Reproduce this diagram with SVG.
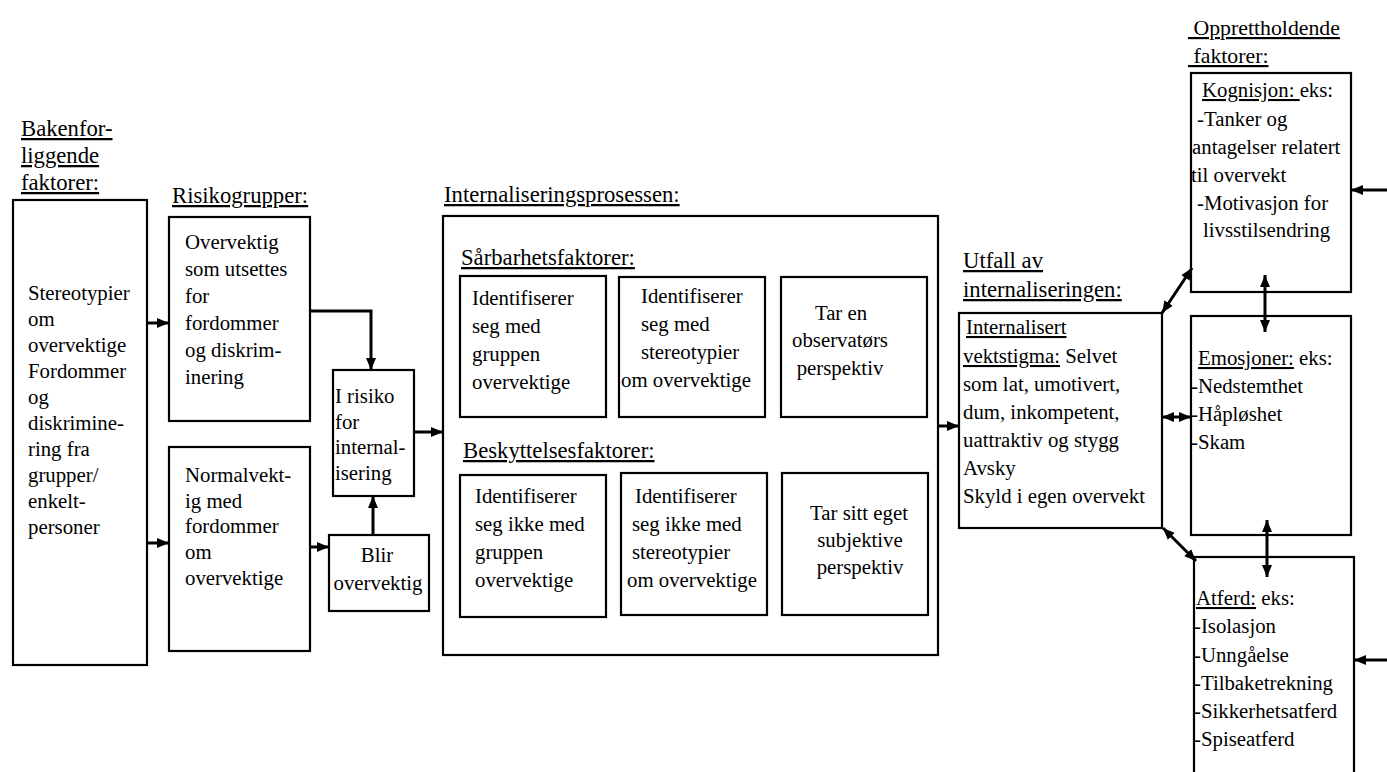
<svg xmlns="http://www.w3.org/2000/svg" width="1387" height="772" viewBox="0 0 1387 772" font-family="'Liberation Serif', 'Times New Roman', Tinos, 'DejaVu Serif', serif">
<style>
.bg{fill:#fff}
.box{fill:#fff;stroke:#000;stroke-width:2.2}
text{font-family:'Liberation Serif','Times New Roman',Tinos,'DejaVu Serif',serif;fill:#000}
.t{font-size:20.8px}
.h{font-size:22.7px;text-decoration:underline}
.u{text-decoration:underline}
.m{text-anchor:middle}
.c{stroke:#000;stroke-width:3;fill:none}
</style>
<defs>
<marker id="ah" markerUnits="userSpaceOnUse" markerWidth="12" markerHeight="12" viewBox="0 0 12 12" refX="12" refY="6" orient="auto-start-reverse">
<path d="M0,1 L12,6 L0,11 z" fill="#000"/>
</marker>
</defs>
<rect class="bg" x="0" y="0" width="1387" height="772"/>

<g id="headers">
<text class="h" x="21" y="136">Bakenfor-</text>
<text class="h" x="21" y="163">liggende</text>
<text class="h" x="21" y="190">faktorer:</text>
<text class="h" x="172" y="203">Risikogrupper:</text>
<text class="h" x="444" y="202">Internaliseringsprosessen:</text>
<text class="h" x="963" y="268">Utfall av</text>
<text class="h" x="963" y="297">internaliseringen:</text>
<text class="h" x="1188" y="35" xml:space="preserve" style="font-size:21.8px"> Opprettholdende</text>
<text class="h" x="1188" y="63" xml:space="preserve" style="font-size:21.8px"> faktorer:</text>
</g>

<g id="n-bakenforliggende">
<rect class="box" x="13" y="200" width="134" height="465"/>
<text class="t" x="28" y="300">Stereotypier</text>
<text class="t" x="28" y="326">om</text>
<text class="t" x="28" y="352">overvektige</text>
<text class="t" x="28" y="378">Fordommer</text>
<text class="t" x="28" y="404">og</text>
<text class="t" x="28" y="430">diskrimine-</text>
<text class="t" x="28" y="456">ring fra</text>
<text class="t" x="28" y="482">grupper/</text>
<text class="t" x="28" y="508">enkelt-</text>
<text class="t" x="28" y="534">personer</text>
</g>

<g id="n-overvektig">
<rect class="box" x="169" y="217" width="141" height="204"/>
<text class="t" x="185" y="249">Overvektig</text>
<text class="t" x="185" y="276">som utsettes</text>
<text class="t" x="185" y="303">for</text>
<text class="t" x="185" y="330">fordommer</text>
<text class="t" x="185" y="357">og diskrim-</text>
<text class="t" x="185" y="384">inering</text>
</g>

<g id="n-normalvektig">
<rect class="box" x="169" y="447" width="141" height="204"/>
<text class="t" x="185" y="482">Normalvekt-</text>
<text class="t" x="185" y="508">ig med</text>
<text class="t" x="185" y="533">fordommer</text>
<text class="t" x="185" y="559">om</text>
<text class="t" x="185" y="585">overvektige</text>
</g>

<g id="n-irisiko">
<rect class="box" x="333" y="370" width="81" height="126"/>
<text class="t" x="335" y="403">I risiko</text>
<text class="t" x="335" y="429">for</text>
<text class="t" x="335" y="454">internal-</text>
<text class="t" x="335" y="480">isering</text>
</g>

<g id="n-blir">
<rect class="box" x="329" y="535" width="100" height="76"/>
<text class="t m" x="377" y="562">Blir</text>
<text class="t m" x="378" y="590">overvektig</text>
</g>

<g id="n-internaliseringsprosessen">
<rect class="box" x="443" y="216" width="495" height="439"/>
<text class="h" x="461" y="265">Sårbarhetsfaktorer:</text>
<text class="h" x="463" y="458">Beskyttelsesfaktorer:</text>
</g>

<g id="n-s1">
<rect class="box" x="460" y="276" width="146" height="141"/>
<text class="t" x="472" y="305">Identifiserer</text>
<text class="t" x="472" y="333">seg med</text>
<text class="t" x="472" y="361">gruppen</text>
<text class="t" x="472" y="389">overvektige</text>
</g>

<g id="n-s2">
<rect class="box" x="619" y="277" width="146" height="140"/>
<text class="t" x="641" y="303">Identifiserer</text>
<text class="t" x="641" y="331">seg med</text>
<text class="t" x="641" y="359">stereotypier</text>
<text class="t" x="621" y="387">om overvektige</text>
</g>

<g id="n-s3">
<rect class="box" x="781" y="277" width="146" height="140"/>
<text class="t m" x="841" y="320">Tar en</text>
<text class="t m" x="840" y="347">observatørs</text>
<text class="t m" x="840" y="375">perspektiv</text>
</g>

<g id="n-b1">
<rect class="box" x="460" y="475" width="146" height="142"/>
<text class="t" x="475" y="503">Identifiserer</text>
<text class="t" x="475" y="531">seg ikke med</text>
<text class="t" x="475" y="559">gruppen</text>
<text class="t" x="475" y="587">overvektige</text>
</g>

<g id="n-b2">
<rect class="box" x="621" y="473" width="146" height="142"/>
<text class="t" x="635" y="503">Identifiserer</text>
<text class="t" x="632" y="531">seg ikke med</text>
<text class="t" x="632" y="559">stereotypier</text>
<text class="t" x="627" y="587">om overvektige</text>
</g>

<g id="n-b3">
<rect class="box" x="782" y="473" width="146" height="142"/>
<text class="t m" x="859" y="520">Tar sitt eget</text>
<text class="t m" x="860" y="547">subjektive</text>
<text class="t m" x="860" y="574">perspektiv</text>
</g>

<g id="n-internalisert">
<rect class="box" x="959" y="313" width="203" height="215"/>
<text class="t u" x="966" y="334">Internalisert</text>
<text class="t" x="963" y="363" xml:space="preserve"><tspan class="u">vektstigma:</tspan> Selvet</text>
<text class="t" x="963" y="391">som lat, umotivert,</text>
<text class="t" x="963" y="419">dum, inkompetent,</text>
<text class="t" x="963" y="447">uattraktiv og stygg</text>
<text class="t" x="963" y="475">Avsky</text>
<text class="t" x="963" y="503">Skyld i egen overvekt</text>
</g>

<g id="n-kognisjon">
<rect class="box" x="1191" y="73" width="160" height="219"/>
<text class="t" x="1202" y="97" xml:space="preserve"><tspan class="u">Kognisjon: </tspan>eks:</text>
<text class="t" x="1197" y="126">-Tanker og</text>
<text class="t" x="1192" y="154">antagelser relatert</text>
<text class="t" x="1191" y="182">til overvekt</text>
<text class="t" x="1197" y="210">-Motivasjon for</text>
<text class="t" x="1203" y="237">livsstilsendring</text>
</g>

<g id="n-emosjoner">
<rect class="box" x="1191" y="316" width="160" height="219"/>
<text class="t" x="1198" y="365" xml:space="preserve"><tspan class="u">Emosjoner:</tspan> eks:</text>
<text class="t" x="1191" y="393">-Nedstemthet</text>
<text class="t" x="1191" y="421">-Håpløshet</text>
<text class="t" x="1191" y="449">-Skam</text>
</g>

<g id="n-atferd">
<rect class="box" x="1194" y="557" width="160" height="240"/>
<text class="t" x="1196" y="605" xml:space="preserve"><tspan class="u">Atferd:</tspan> eks:</text>
<text class="t" x="1194" y="633">-Isolasjon</text>
<text class="t" x="1194" y="662">-Unngåelse</text>
<text class="t" x="1194" y="690">-Tilbaketrekning</text>
<text class="t" x="1194" y="718">-Sikkerhetsatferd</text>
<text class="t" x="1194" y="746">-Spiseatferd</text>
</g>

<g id="connectors">
<line class="c" x1="147" y1="323" x2="169" y2="323" marker-end="url(#ah)"/>
<line class="c" x1="147" y1="543" x2="169" y2="543" marker-end="url(#ah)"/>
<polyline class="c" points="310,311 371,311 371,370" marker-end="url(#ah)"/>
<line class="c" x1="310" y1="547" x2="329" y2="547" marker-end="url(#ah)"/>
<line class="c" x1="373" y1="535" x2="373" y2="496" marker-end="url(#ah)"/>
<line class="c" x1="414" y1="432" x2="443" y2="432" marker-end="url(#ah)"/>
<line class="c" x1="938" y1="426" x2="959" y2="426" marker-end="url(#ah)"/>
<line class="c" x1="1162" y1="313" x2="1192" y2="268" marker-start="url(#ah)" marker-end="url(#ah)"/>
<line class="c" x1="1162" y1="417" x2="1191" y2="417" marker-start="url(#ah)" marker-end="url(#ah)"/>
<line class="c" x1="1163" y1="528" x2="1196" y2="561" marker-start="url(#ah)" marker-end="url(#ah)"/>
<line class="c" x1="1265" y1="275" x2="1265" y2="332" marker-start="url(#ah)" marker-end="url(#ah)"/>
<line class="c" x1="1267" y1="520" x2="1267" y2="577" marker-start="url(#ah)" marker-end="url(#ah)"/>
<line class="c" x1="1387" y1="190" x2="1351" y2="190" marker-end="url(#ah)"/>
<line class="c" x1="1387" y1="660" x2="1354" y2="660" marker-end="url(#ah)"/>
</g>
</svg>
